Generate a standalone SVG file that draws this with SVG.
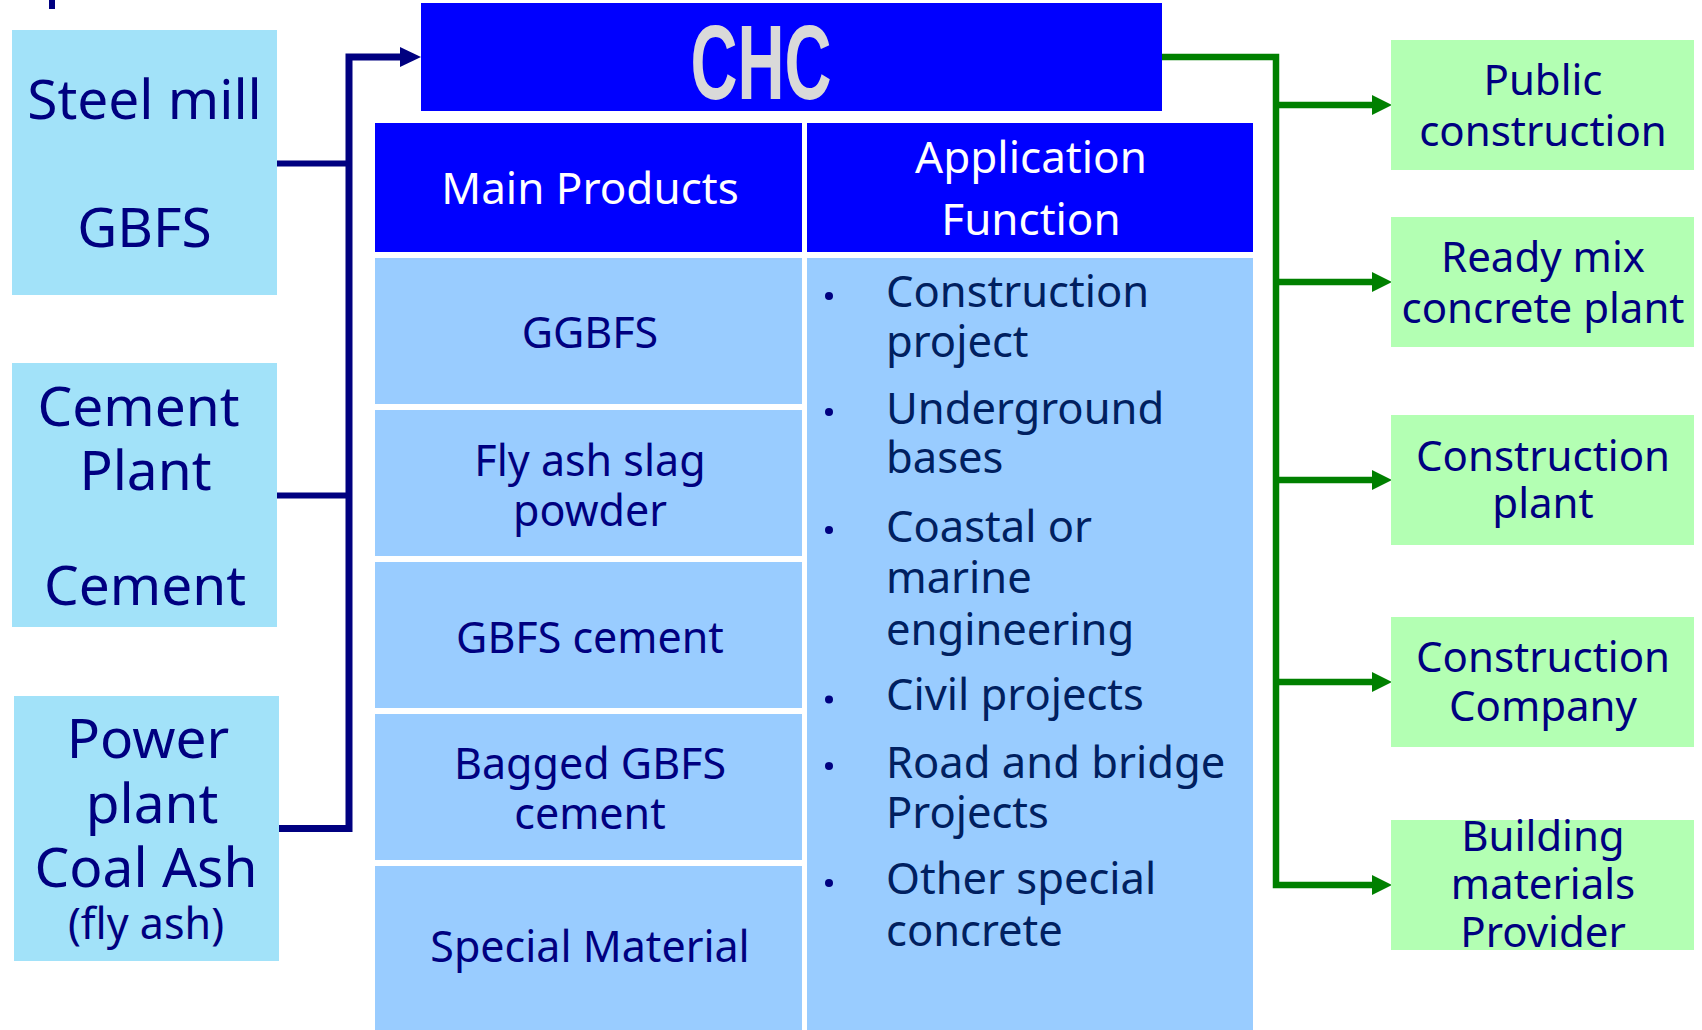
<svg xmlns="http://www.w3.org/2000/svg" width="1702" height="1030" viewBox="0 0 1702 1030">
<style>
.t{font-family:"Noto Sans","Open Sans","DejaVu Sans",sans-serif;text-anchor:middle}
.src{fill:#A2E2F9}
.dst{fill:#B3FFB3}
.hd{fill:#0000FF}
.cell{fill:#99CCFF}
.nv{fill:#000080}
.bt{font-family:"Noto Sans","Open Sans","DejaVu Sans",sans-serif;font-size:43.5px;fill:#002060}
.dark{fill:none;stroke:#000080;stroke-linejoin:miter}
.green{fill:none;stroke:#008000;stroke-width:6.5;stroke-linejoin:miter}
</style>
<defs>
<marker id="ag" markerUnits="userSpaceOnUse" markerWidth="20" markerHeight="20" refX="0" refY="10" orient="auto" viewBox="0 0 20 20">
<path d="M0,0 L20,10 L0,20 Z" fill="#008000"/>
</marker>
</defs>
<rect width="1702" height="1030" fill="#FFFFFF"/>
<rect x="49" y="0" width="6" height="9" fill="#000080"/>

<g id="connectors">
<path class="dark" stroke-width="7" d="M279,828.5 H349 V57 H401"/>
<path d="M400,47 L421,57 L400,67 Z" fill="#000080"/>
<path class="dark" stroke-width="6" d="M277,163.5 H349"/>
<path class="dark" stroke-width="6" d="M277,495.5 H349"/>
<path class="green" d="M1162,57 H1276 V885 H1372" marker-end="url(#ag)"/>
<path class="green" d="M1276,105 H1372" marker-end="url(#ag)"/>
<path class="green" d="M1276,282 H1372" marker-end="url(#ag)"/>
<path class="green" d="M1276,480 H1372" marker-end="url(#ag)"/>
<path class="green" d="M1276,682 H1372" marker-end="url(#ag)"/>
</g>

<g id="steel-mill">
<rect class="src" x="12" y="30" width="265" height="265"/>
<text class="t nv" x="144.5" y="119" font-size="55">Steel mill</text>
<text class="t nv" x="144.5" y="247" font-size="55">GBFS</text>
</g>
<g id="cement-plant">
<rect class="src" x="12" y="363" width="265" height="264"/>
<text class="t nv" x="138.5" y="426" font-size="55">Cement</text>
<text class="t nv" x="145.5" y="490" font-size="55">Plant</text>
<text class="t nv" x="145" y="605" font-size="55">Cement</text>
</g>
<g id="power-plant">
<rect class="src" x="14" y="696" width="265" height="265"/>
<text class="t nv" x="148" y="758" font-size="55">Power</text>
<text class="t nv" x="152" y="823" font-size="55">plant</text>
<text class="t nv" x="146" y="887" font-size="55">Coal Ash</text>
<text class="t nv" x="146" y="939" font-size="43">(fly ash)</text>
</g>

<g id="chc">
<rect class="hd" x="421" y="3" width="741" height="108"/>
<text x="761" y="99" font-family="'Liberation Sans Narrow','Liberation Sans',sans-serif" font-weight="bold" font-size="106" fill="#D9D9D9" text-anchor="middle" textLength="141" lengthAdjust="spacingAndGlyphs">CHC</text>
</g>

<g id="table-header">
<rect class="hd" x="375" y="123" width="427" height="129"/>
<rect class="hd" x="807" y="123" width="446" height="129"/>
<text class="t" x="590" y="204" font-size="44" fill="#FFFFFF">Main Products</text>
<text class="t" x="1031" y="173" font-size="44" fill="#FFFFFF">Application</text>
<text class="t" x="1031" y="235" font-size="44" fill="#FFFFFF">Function</text>
</g>

<g id="products">
<rect class="cell" x="375" y="258" width="427" height="146"/>
<rect class="cell" x="375" y="410" width="427" height="146"/>
<rect class="cell" x="375" y="562" width="427" height="146"/>
<rect class="cell" x="375" y="714" width="427" height="146"/>
<rect class="cell" x="375" y="866" width="427" height="164"/>
<text class="t nv" x="590" y="348" font-size="43">GGBFS</text>
<text class="t nv" x="590" y="476" font-size="43">Fly ash slag</text>
<text class="t nv" x="590" y="526" font-size="43">powder</text>
<text class="t nv" x="590" y="653" font-size="43">GBFS cement</text>
<text class="t nv" x="590" y="779" font-size="43">Bagged GBFS</text>
<text class="t nv" x="590" y="829" font-size="43">cement</text>
<text class="t nv" x="590" y="962" font-size="43">Special Material</text>
</g>

<g id="applications">
<rect class="cell" x="807" y="258" width="446" height="772"/>
<g fill="#000080">
<circle cx="829" cy="296" r="4"/>
<circle cx="829" cy="412" r="4"/>
<circle cx="829" cy="530" r="4"/>
<circle cx="829" cy="699.5" r="4"/>
<circle cx="829" cy="766" r="4"/>
<circle cx="829" cy="883" r="4"/>
</g>
<text class="bt" x="886" y="307">Construction</text>
<text class="bt" x="886" y="357">project</text>
<text class="bt" x="886" y="424">Underground</text>
<text class="bt" x="886" y="473">bases</text>
<text class="bt" x="886" y="542">Coastal or</text>
<text class="bt" x="886" y="593">marine</text>
<text class="bt" x="886" y="645">engineering</text>
<text class="bt" x="886" y="710">Civil projects</text>
<text class="bt" x="886" y="778">Road and bridge</text>
<text class="bt" x="886" y="828">Projects</text>
<text class="bt" x="886" y="894">Other special</text>
<text class="bt" x="886" y="946">concrete</text>
</g>

<g id="public-construction">
<rect class="dst" x="1391" y="40" width="303" height="130"/>
<text class="t nv" x="1543" y="95" font-size="42">Public</text>
<text class="t nv" x="1543" y="146" font-size="42">construction</text>
</g>
<g id="ready-mix">
<rect class="dst" x="1391" y="217" width="303" height="130"/>
<text class="t nv" x="1543" y="272" font-size="42">Ready mix</text>
<text class="t nv" x="1543" y="323" font-size="42">concrete plant</text>
</g>
<g id="construction-plant">
<rect class="dst" x="1391" y="415" width="303" height="130"/>
<text class="t nv" x="1543" y="471" font-size="42">Construction</text>
<text class="t nv" x="1543" y="518" font-size="42">plant</text>
</g>
<g id="construction-company">
<rect class="dst" x="1391" y="617" width="303" height="130"/>
<text class="t nv" x="1543" y="672" font-size="42">Construction</text>
<text class="t nv" x="1543" y="721" font-size="42">Company</text>
</g>
<g id="building-materials">
<rect class="dst" x="1391" y="820" width="303" height="130"/>
<text class="t nv" x="1543" y="851" font-size="42">Building</text>
<text class="t nv" x="1543" y="899" font-size="42">materials</text>
<text class="t nv" x="1543" y="947" font-size="42">Provider</text>
</g>
</svg>
